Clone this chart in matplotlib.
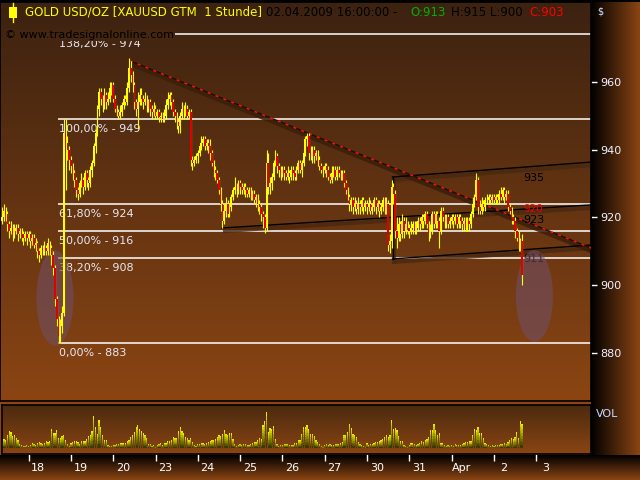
import numpy as np
import matplotlib
matplotlib.use('Agg')
from matplotlib import pyplot as plt
from matplotlib.patches import Ellipse, Rectangle
from matplotlib.colors import LinearSegmentedColormap
import matplotlib.transforms as mtransforms

# hourly XAUUSD bars, 17.03.2009 09:00 .. 02.04.2009 16:00
first_open = 919
c17 = [920, 922, 921, 918, 916, 917, 915, 916, 917, 915, 916, 915, 914, 915, 914]
c18 = [915, 913, 914, 912, 912.5, 910, 909, 911, 910.5, 911, 910, 912.5, 911, 909, 905, 896, 890, 885, 888, 892, 945, 942, 940, 937]
c19 = [935, 933, 931, 928, 927, 930, 931, 929, 933, 931, 930, 934, 936, 941, 945, 952, 957, 955, 953, 956, 954, 955, 958, 959]
c20 = [955, 952, 951, 950, 951, 953, 955, 954, 958, 964, 962, 959, 954, 952, 954, 956, 955, 954, 955, 953, 954, 952, 951, 952]
c23 = [950, 951, 949.5, 950, 949, 950, 953, 955, 956, 954, 951, 950, 948, 947, 950, 952, 951, 952, 950, 951, 937, 936, 937, 938]
c24 = [939, 941, 942, 943, 941, 942, 941, 939, 936, 934, 933, 931, 928, 924, 919, 922, 924, 921, 923, 926, 928, 929, 928, 930]
c25 = [929, 928, 929, 928, 927, 928, 926, 927, 925, 926, 924, 923, 921, 920, 917, 936, 929, 930, 932, 936, 938, 935, 934, 933]
c26 = [934, 933, 932, 933, 932, 934, 933, 932, 934, 936, 934, 936, 939, 943, 944, 939, 938, 940, 938, 939, 937, 935, 934, 934]
c27 = [935, 934, 932, 931, 933, 934, 932, 934, 933, 932, 933, 930, 928, 926, 924, 925, 923, 924, 922.5, 924, 923, 925, 923, 924]
c30 = [923, 924, 922, 923, 925, 923, 924, 922, 923, 925, 922, 924, 912, 913, 929, 927, 916, 914, 918, 915, 919, 916, 918, 917]
c31 = [916, 917, 918, 916, 917, 919, 918, 920, 919, 921, 918, 915, 916, 921, 918, 921, 919, 916, 922, 920, 919, 920, 918, 919]
c01 = [920, 919, 920, 918, 920, 919, 918, 919, 917, 919, 918, 921, 924, 926, 931, 923, 922, 924, 923, 925, 925, 926, 925, 926]
c02 = [925, 926, 925, 927, 926, 928, 926, 927, 923, 922, 920, 919, 916, 914, 912, 913, 903]

h17 = [923, 924, 923, 922, 919, 919, 918, 918, 918, 918, 917, 917, 916, 916, 916]
h18 = [916, 916, 915, 915, 914, 913, 911, 912, 912, 913, 912, 914, 913, 912, 910, 906, 897, 891, 890, 894, 949, 949, 944, 941]
h19 = [938, 936, 934, 932, 929, 931, 933, 932, 934, 934, 932, 935, 937, 942, 946, 953, 958, 958, 956, 958, 957, 957, 960, 960]
h20 = [960, 956, 953, 952, 953, 954, 956, 956, 960, 967, 966, 963, 960, 955, 957, 958, 958, 956, 957, 956, 955, 955, 953, 954]
h23 = [953, 952, 952, 951, 951, 952, 955, 957, 957, 957, 955, 952, 951, 949, 951, 954, 953, 954, 953, 952, 952, 938, 938, 939]
h24 = [940, 942, 944, 944, 944, 943, 943, 943, 940, 937, 935, 934, 932, 929, 925, 924, 926, 925, 924, 927, 929, 932, 930, 931]
h25 = [931, 930, 930, 930, 929, 929, 929, 928, 928, 927, 927, 925, 924, 922, 921, 940, 939, 932, 933, 937, 940, 939, 936, 935]
h26 = [935, 935, 934, 935, 934, 935, 935, 934, 935, 937, 937, 937, 940, 944, 945, 945, 941, 941, 941, 940, 940, 938, 936, 935]
h27 = [936, 936, 935, 933, 935, 935, 935, 935, 935, 934, 934, 934, 931, 929, 927, 926, 926, 926, 925, 926, 925, 926, 926, 925]
h30 = [925, 926, 925, 924, 926, 926, 925, 925, 924, 926, 926, 926, 925, 915, 931, 930, 928, 920, 920, 919, 921, 920, 920, 919]
h31 = [918, 919, 919, 919, 919, 920, 920, 921, 921, 922, 922, 919, 918, 922, 922, 922, 922, 920, 923, 923, 921, 921, 921, 920]
h01 = [921, 921, 921, 921, 921, 921, 920, 920, 920, 920, 920, 922, 926, 927, 933, 932, 925, 926, 925, 926, 927, 927, 927, 927]
h02 = [927, 927, 927, 928, 929, 929, 929, 928, 928, 924, 923, 921, 920, 917, 916, 914, 915]

l17 = [918, 919, 919, 916, 914, 915, 913, 914, 915, 913, 914, 913, 912, 913, 912]
l18 = [913, 911, 912, 911, 910, 908, 907, 908, 909, 909, 909, 909, 909, 906, 903, 894, 888, 883, 883, 886, 891, 928, 937, 934]
l19 = [933, 931, 929, 926, 925, 926, 929, 927, 928, 929, 928, 929, 932, 935, 939, 944, 950, 953, 951, 952, 952, 953, 954, 956]
l20 = [954, 951, 950, 949, 949, 950, 952, 953, 953, 957, 960, 957, 952, 950, 946, 953, 953, 952, 953, 951, 951, 950, 949, 950]
l23 = [949, 949, 948, 948, 948, 948, 949, 952, 953, 952, 950, 948, 946, 945, 945, 949, 949, 950, 949, 949, 935, 934, 935, 936]
l24 = [936, 938, 940, 941, 940, 940, 939, 937, 935, 932, 931, 930, 927, 922, 917, 918, 920, 920, 920, 922, 925, 927, 926, 927]
l25 = [927, 927, 927, 926, 926, 926, 925, 925, 924, 923, 922, 921, 919, 917, 915.5, 916, 927, 927, 928, 931, 935, 933, 932, 931]
l26 = [932, 931, 931, 931, 930, 931, 931, 931, 931, 933, 933, 932, 935, 938, 941, 937, 937, 936, 936, 937, 935, 934, 933, 932]
l27 = [933, 932, 931, 930, 930, 932, 931, 931, 932, 931, 931, 929, 927, 925, 922, 922, 921, 922, 921, 921, 921, 922, 921, 922]
l30 = [921, 922, 921, 921, 922, 921, 922, 920, 921, 922, 921, 921, 910, 909.5, 911, 924, 914, 911, 913, 913, 914, 914, 915, 915]
l31 = [914, 915, 915, 915, 915, 916, 916, 917, 917, 918, 917, 913, 914, 915, 917, 917, 917, 911, 915, 919, 917, 917, 917, 917]
l01 = [918, 917, 918, 917, 917, 917, 916, 916, 916, 916, 916, 917, 920, 923, 925, 921, 921, 921, 922, 922, 924, 924, 924, 924]
l02 = [924, 924, 924, 924, 925, 925, 924, 925, 922, 921, 918, 918, 914, 913, 910, 910, 900]

v17 = [5, 9, 8, 13, 17, 16, 12, 13, 10, 8, 4, 3, 2, 2, 3]
v18 = [2, 3, 5, 4, 3, 5, 6, 5, 4, 5, 7, 6, 7, 19, 15, 15, 18, 10, 10, 12, 13, 8, 4, 2]
v19 = [5, 6, 7, 7, 6, 4, 7, 7, 7, 9, 12, 13, 17, 32, 21, 14, 28, 21, 13, 8, 8, 3, 2, 2]
v20 = [3, 3, 4, 4, 5, 5, 5, 5, 7, 8, 11, 13, 16, 21, 23, 19, 17, 15, 13, 10, 4, 4, 2, 3]
v23 = [1, 3, 4, 5, 3, 5, 5, 7, 7, 8, 11, 10, 10, 17, 21, 17, 15, 11, 10, 8, 10, 6, 3, 2]
v24 = [4, 4, 5, 5, 4, 5, 6, 7, 8, 8, 9, 11, 13, 12, 14, 18, 14, 13, 15, 15, 9, 4, 2, 3]
v25 = [4, 3, 4, 4, 3, 3, 4, 5, 6, 6, 8, 10, 9, 23, 27, 36, 16, 20, 19, 22, 9, 4, 2, 3]
v26 = [3, 4, 4, 4, 3, 3, 3, 5, 5, 8, 8, 14, 21, 21, 23, 19, 14, 14, 12, 8, 6, 4, 2, 1]
v27 = [3, 4, 3, 4, 3, 3, 4, 4, 4, 5, 6, 13, 13, 16, 24, 20, 14, 13, 11, 6, 4, 3, 2, 1]
v30 = [5, 3, 4, 4, 5, 6, 6, 7, 8, 9, 11, 13, 11, 13, 28, 19, 20, 18, 12, 7, 7, 3, 2, 1]
v31 = [3, 5, 5, 4, 3, 4, 5, 7, 6, 8, 9, 11, 18, 18, 24, 18, 13, 15, 5, 5, 3, 2, 3, 2]
v01 = [3, 2, 4, 3, 3, 3, 4, 5, 6, 6, 7, 7, 13, 19, 18, 21, 15, 15, 10, 5, 4, 3, 2, 3]
v02 = [2, 3, 3, 3, 4, 4, 5, 4, 6, 8, 10, 9, 11, 16, 10, 27, 24]

day_labels = ['18', '19', '20', '23', '24', '25', '26', '27', '30', '31', 'Apr', '2', '3']

# fibonacci retracement
fib_levels = [974, 949, 924, 916, 908, 883]
fib_names = ['138,20%', '100,00%', '61,80%', '50,00%', '38,20%', '0,00%']
fib_start = 16.5

# drawn trend lines (hour, price)
trend_red = [(57.5, 966.1), (319.1, 911.0)]
trend_low = [(109.7, 916.9), (319.1, 923.7)]
chan_top = [(206.5, 931.9), (319.1, 936.3)]
chan_bot = [(206.5, 907.8), (319.1, 911.9)]
chan_marks = [('935', 931.6, 'black', 8), ('920', 922.4, '#ee0000', 7.5),
              ('923', 919.4, 'black', 8), ('911', 907.8, 'black', 8)]

closes = np.array(c17 + c18 + c19 + c20 + c23 + c24 + c25 + c26 + c27 + c30 + c31 + c01 + c02)
highs = np.array(h17 + h18 + h19 + h20 + h23 + h24 + h25 + h26 + h27 + h30 + h31 + h01 + h02)
lows = np.array(l17 + l18 + l19 + l20 + l23 + l24 + l25 + l26 + l27 + l30 + l31 + l01 + l02)
vols = np.array(v17 + v18 + v19 + v20 + v23 + v24 + v25 + v26 + v27 + v30 + v31 + v01 + v02)
opens = np.concatenate([[first_open], closes[:-1]])
hours = np.arange(len(closes)) - 15   # hours from 18.03. 00:00

X0, X1 = -16.2, 319.1

fig = plt.figure(figsize=(6.4, 4.8), dpi=100)
fig.patch.set_facecolor('#8b4513')

def px_box(x0, y0, x1, y1):
    return [x0 / 640, 1 - y1 / 480, (x1 - x0) / 640, (y1 - y0) / 480]

grad = np.linspace(0, 1, 256)
dark_cm = LinearSegmentedColormap.from_list('dk', ['#000000', '#8b4513'])
main_cm = LinearSegmentedColormap.from_list('mn', ['#3c2210', '#8b4513'])
vol_cm = LinearSegmentedColormap.from_list('vl', ['#4b2a0f', '#8b4513'])
bar_cm = LinearSegmentedColormap.from_list('vb', ['#3a3a00', '#9a9a00', '#ffff00'])

# frame background (right scale and bottom scale)
bg = fig.add_axes([0, 0, 1, 1], zorder=-10)
bg.axis('off')
bg.imshow(grad[None, :], extent=(591, 640, 455, 0), cmap=dark_cm, aspect='auto')
bg.imshow(grad[:, None], extent=(0, 640, 480, 455), cmap=dark_cm, aspect='auto')
bg.imshow(grad[:, None] * 0, extent=(0, 640, 2, 0), cmap=dark_cm, aspect='auto', vmin=0, vmax=1)
bg.set_xlim(0, 640)
bg.set_ylim(480, 0)

# ---- price panel
ax = fig.add_axes(px_box(0, 2, 591, 401))
Y0, Y1 = 866.0, 983.4
ax.imshow(grad[:, None], extent=(X0, X1, Y0, Y1), cmap=main_cm, aspect='auto', zorder=0)
for s in ax.spines.values():
    s.set_color('black')
    s.set_linewidth(1.2)

ax.hlines(fib_levels, fib_start, X1, color='white', lw=1.1, zorder=2)
lab_tr = mtransforms.offset_copy(ax.transData, fig, x=0, y=-5, units='dots')
for lvl, nm in zip(fib_levels, fib_names):
    ax.text(fib_start + 0.5, lvl, f'{nm} - {lvl}', transform=lab_tr, va='top', ha='left',
            color='#e8e8f2', fontsize=8, zorder=2)

shadow = mtransforms.offset_copy(ax.transData, fig, x=1, y=-3, units='dots')
for ln in [trend_low, chan_top, chan_bot]:
    xs, ys = zip(*ln)
    ax.plot(xs, ys, color='#4a2810', lw=3, alpha=0.8, transform=shadow, zorder=2, solid_capstyle='butt')
    ax.plot(xs, ys, color='black', lw=1, zorder=3)
ax.plot([chan_top[0][0]] * 2, [chan_bot[0][1], chan_top[0][1]], color='#4a2810', lw=3,
        alpha=0.8, transform=shadow, zorder=2)
ax.plot([chan_top[0][0]] * 2, [chan_bot[0][1], chan_top[0][1]], color='black', lw=1, zorder=3)

xs, ys = zip(*trend_red)
ax.plot(xs, ys, color='#3a1f0a', lw=3.5, alpha=0.85, transform=shadow, zorder=2)
ax.plot(xs, ys, color='#1e1006', lw=1, zorder=3)
ax.plot(xs, ys, color='#ff1010', lw=1.1, dashes=(2, 3.5), zorder=3)

for txt, p, col, fs in chan_marks:
    ax.text(280.5, p, txt, color=col, fontsize=fs, va='center', ha='left', zorder=3.5)

ax.add_patch(Ellipse((15.0, 896.3), 21, 28, facecolor='#70506a', alpha=0.55, lw=0, zorder=4))
ax.add_patch(Ellipse((287.0, 896.9), 21, 27, facecolor='#70506a', alpha=0.55, lw=0, zorder=4))

up = closes >= opens
ax.vlines(hours, lows, highs, color='#ffff00', lw=0.8, zorder=5)
ax.bar(hours[up], (closes - opens)[up], bottom=opens[up], width=0.9, color='#ffff00', lw=0, zorder=6)
ax.bar(hours[~up], (closes - opens)[~up], bottom=opens[~up], width=0.9, color='#e00000', lw=0, zorder=6)

ax.set_xlim(X0, X1)
ax.set_ylim(Y0, Y1)
ax.yaxis.tick_right()
ax.set_yticks([880, 900, 920, 940, 960])
ax.tick_params(axis='y', colors='white', labelcolor='#f0f0ff', length=4, width=1, pad=3, labelsize=8)
ax.tick_params(axis='x', bottom=False, labelbottom=False)

# ---- volume panel
vax = fig.add_axes(px_box(2, 405, 591, 454))
vax.imshow(grad[:, None], extent=(X0, X1, -6, 43), cmap=vol_cm, aspect='auto', zorder=0)
for frac in np.linspace(1, 0.1, 8):
    vax.bar(hours, vols * frac, bottom=vols * (1 - frac), width=0.7,
            color=bar_cm(1 - frac), lw=0, zorder=2)
for s in vax.spines.values():
    s.set_color('black')
    s.set_linewidth(1.2)
vax.set_xlim(X0 + 1.1, X1)
vax.set_ylim(-6, 43)
vax.set_yticks([])
day_pos = 24 * np.arange(len(day_labels))
vax.set_xticks(day_pos)
vax.tick_params(axis='x', direction='out', length=5, width=1, colors='white', labelbottom=False)
btr = mtransforms.blended_transform_factory(vax.transData, vax.transAxes)
for pos, lab in zip(day_pos, day_labels):
    vax.text(pos + 5.5, -0.28, lab, transform=btr, ha='center', va='center', color='white', fontsize=8)

# ---- overlay texts in pixel coordinates
ov = fig.add_axes([0, 0, 1, 1], zorder=20)
ov.axis('off')
ov.set_xlim(0, 640)
ov.set_ylim(480, 0)
ov.add_patch(Rectangle((8.5, 7), 8, 11, color='#ffff00', lw=0))
ov.plot([12.7, 12.7], [3, 22], color='#ffff00', lw=1)
ov.text(25, 12, 'GOLD USD/OZ [XAUUSD GTM  1 Stunde]', color='#ffff00', fontsize=8.5, va='center')
ov.text(266, 12, '02.04.2009 16:00:00 -', color='black', fontsize=8.5, va='center')
ov.text(410, 12, f'O:{opens[-1]:.0f}', color='#00b000', fontsize=8.5, va='center')
ov.text(451, 12, f'H:{highs[-1]:.0f} L:{lows[-1]:.0f}', color='black', fontsize=8.5, va='center')
ov.text(529, 12, f'C:{closes[-1]:.0f}', color='#ff0000', fontsize=8.5, va='center')
ov.text(5, 35, '© www.tradesignalonline.com', color='black', fontsize=8, va='center',
        bbox=dict(facecolor='#432510', edgecolor='none', pad=0.5))
ov.text(597, 12, '$', color='#d8e8ff', fontsize=7, va='center')
ov.text(596, 414, 'VOL', color='#c8dcff', fontsize=8, va='center')

fig.savefig('out.png', dpi=100, facecolor=fig.get_facecolor())
